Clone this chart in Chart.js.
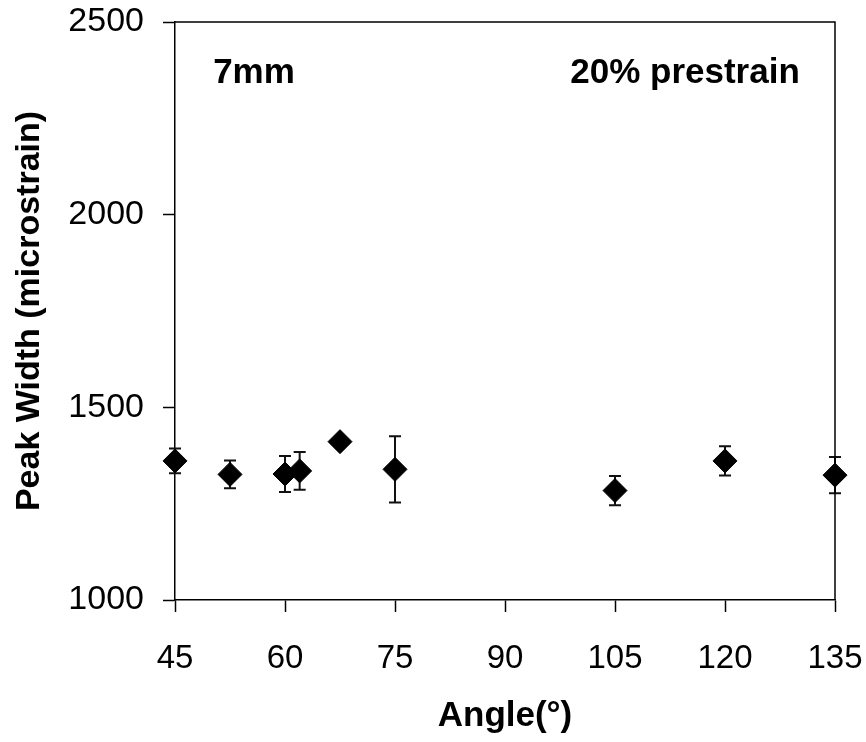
<!DOCTYPE html>
<html>
<head>
<meta charset="utf-8">
<script src="https://cdn.jsdelivr.net/npm/chart.js@4.4.1/dist/chart.umd.min.js"></script>
<style>
  body { margin: 0; background: #fff; }
</style>
</head>
<body>
<canvas id="peakChart" width="866" height="742"></canvas>
<script>
// data
var angles = [45, 52.5, 60, 62, 67.5, 75, 105, 120, 135];
var peakWidths = [1361, 1326, 1327, 1335, 1411, 1339, 1284, 1361, 1324];
var errors = [32, 36, 47, 49, 0, 86, 38, 38, 47];

var xTicks = [45, 60, 75, 90, 105, 120, 135];
var yTicks = [1000, 1500, 2000, 2500];

var FONT = '"Liberation Sans", Arial, sans-serif';

// error bars, drawn under the markers
var errorBars = {
    id: 'errorBars',
    beforeDatasetsDraw: function(chart) {
        var ctx = chart.ctx;
        var xs = chart.scales.x, ys = chart.scales.y;
        ctx.save();
        ctx.strokeStyle = '#111';
        ctx.lineWidth = 2;
        angles.forEach(function(a, i) {
            if (!errors[i]) return;
            var px = xs.getPixelForValue(a);
            var top = ys.getPixelForValue(peakWidths[i] + errors[i]);
            var bot = ys.getPixelForValue(peakWidths[i] - errors[i]);
            ctx.beginPath();
            ctx.moveTo(px, top); ctx.lineTo(px, bot);
            ctx.moveTo(px - 6, top); ctx.lineTo(px + 6, top);
            ctx.moveTo(px - 6, bot); ctx.lineTo(px + 6, bot);
            ctx.stroke();
        });
        ctx.restore();
    }
};

// box frame (top + right) and the two labels inside
var frameAndLabels = {
    id: 'frameAndLabels',
    afterDraw: function(chart) {
        var ctx = chart.ctx;
        var a = chart.chartArea;
        var xs = chart.scales.x, ys = chart.scales.y;
        ctx.save();
        ctx.strokeStyle = '#000';
        ctx.lineWidth = 1.5;
        ctx.beginPath();
        ctx.moveTo(a.left, a.top);
        ctx.lineTo(a.right, a.top);
        ctx.lineTo(a.right, a.bottom);
        ctx.stroke();

        ctx.fillStyle = '#000';
        ctx.font = 'bold 35px ' + FONT;
        ctx.textBaseline = 'alphabetic';
        ctx.textAlign = 'left';
        ctx.fillText('7mm', xs.getPixelForValue(50.2), ys.getPixelForValue(2342));
        ctx.textAlign = 'right';
        ctx.fillText('20% prestrain', xs.getPixelForValue(130.2), ys.getPixelForValue(2342));
        ctx.restore();
    }
};

function plainLabel(value) {
    return String(value);
}

var ctx = document.getElementById('peakChart');
var peakChart = new Chart(ctx, {
    type: 'scatter',
    data: {
        datasets: [{
            label: 'Peak Width',
            data: angles.map(function(a, i) { return { x: a, y: peakWidths[i] }; }),
            pointStyle: 'rectRot',
            pointRadius: 12,
            pointHoverRadius: 12,
            backgroundColor: '#000',
            borderColor: '#000',
            borderWidth: 1,
            clip: false
        }]
    },
    options: {
        responsive: false,
        animation: false,
        events: [],
        layout: {
            padding: { left: 0, top: 22, right: 31, bottom: 0 }
        },
        plugins: {
            legend: { display: false },
            tooltip: { enabled: false }
        },
        scales: {
            x: {
                type: 'linear',
                min: 45,
                max: 135,
                afterBuildTicks: function(scale) {
                    scale.ticks = xTicks.map(function(v) { return { value: v }; });
                },
                afterFit: function(scale) {
                    scale.height = 142;
                    scale.paddingLeft = 0;
                    scale.paddingRight = 0;
                },
                grid: {
                    drawOnChartArea: false,
                    drawTicks: true,
                    tickLength: 12,
                    tickColor: '#000',
                    tickWidth: 1.5
                },
                border: { display: true, color: '#000', width: 1.5 },
                ticks: {
                    color: '#000',
                    padding: 27,
                    maxRotation: 0,
                    callback: plainLabel,
                    font: { family: FONT, size: 33 }
                },
                title: {
                    display: true,
                    text: 'Angle(°)',
                    color: '#000',
                    padding: { top: 0, bottom: 5 },
                    font: { family: FONT, size: 35, weight: 'bold' }
                }
            },
            y: {
                type: 'linear',
                min: 1000,
                max: 2500,
                afterBuildTicks: function(scale) {
                    scale.ticks = yTicks.map(function(v) { return { value: v }; });
                },
                afterFit: function(scale) {
                    scale.width = 175;
                    scale.paddingTop = 0;
                    scale.paddingBottom = 0;
                },
                grid: {
                    drawOnChartArea: false,
                    drawTicks: true,
                    tickLength: 12,
                    tickColor: '#000',
                    tickWidth: 1.5
                },
                border: { display: true, color: '#000', width: 1.5 },
                ticks: {
                    color: '#000',
                    padding: 19,
                    callback: plainLabel,
                    font: { family: FONT, size: 34 }
                },
                title: {
                    display: true,
                    text: 'Peak Width (microstrain)',
                    color: '#000',
                    padding: { top: 9, bottom: 0 },
                    font: { family: FONT, size: 34, weight: 'bold' }
                }
            }
        }
    },
    plugins: [errorBars, frameAndLabels]
});
</script>
</body>
</html>
